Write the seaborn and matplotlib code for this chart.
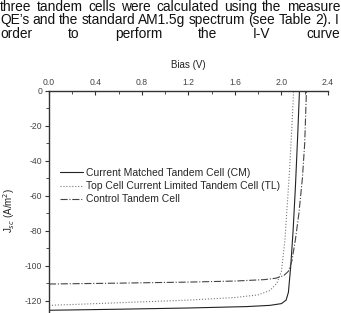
import matplotlib
matplotlib.use("Agg")
import matplotlib.pyplot as plt
import pandas as pd
import seaborn as sns
from matplotlib.ticker import MultipleLocator

# I-V curves
cm_bias = [0.0, 0.6, 1.2, 1.7, 1.9, 2.0, 2.04, 2.06, 2.08, 2.10, 2.12, 2.14, 2.155]
cm_jsc = [-125.3, -124.7, -124.0, -123.2, -122.5, -121.5, -119.5, -115.0, -100.0, -80.0, -55.0, -25.0, 0.0]

tl_bias = [0.0, 0.6, 1.2, 1.6, 1.8, 1.9, 1.96, 2.0, 2.03, 2.05, 2.07, 2.09, 2.105]
tl_jsc = [-122.5, -121.0, -119.5, -118.0, -116.5, -114.0, -110.0, -103.0, -85.0, -65.0, -45.0, -20.0, 0.0]

ct_bias = [0.0, 0.6, 1.2, 1.6, 1.85, 1.95, 2.02, 2.06, 2.09, 2.12, 2.15, 2.18, 2.20, 2.215]
ct_jsc = [-110.3, -109.8, -109.2, -108.6, -107.8, -107.0, -105.5, -103.0, -97.0, -85.0, -70.0, -50.0, -30.0, 0.0]

labels = ['Current Matched Tandem Cell (CM)',
          'Top Cell Current Limited Tandem Cell (TL)',
          'Control Tandem Cell']

x_ticks = [0.0, 0.4, 0.8, 1.2, 1.6, 2.0, 2.4]
y_ticks = [0, -20, -40, -60, -80, -100, -120]

# justified paragraph lines above the figure
para = ['three tandem cells were calculated using the measure',
        'QE\u2019s and the standard AM1.5g spectrum (see Table 2). I',
        'order to perform the I-V curve']

df = pd.concat([
    pd.DataFrame({'Bias': cm_bias, 'Jsc': cm_jsc, 'cell': labels[0]}),
    pd.DataFrame({'Bias': tl_bias, 'Jsc': tl_jsc, 'cell': labels[1]}),
    pd.DataFrame({'Bias': ct_bias, 'Jsc': ct_jsc, 'cell': labels[2]}),
])

sns.set_style('white')
plt.rcParams['font.family'] = ['Liberation Sans', 'DejaVu Sans']

fig = plt.figure(figsize=(3.41, 3.13), dpi=100)
renderer = fig.canvas.get_renderer()


def justify(line, ypos, x0, x1):
    # spread the words of one line between pixel columns x0 and x1
    texts = [fig.text(0, ypos, w, fontsize=9.9, va='center', ha='left', color='#111')
             for w in line.split()]
    widths = [t.get_window_extent(renderer).width for t in texts]
    gap = (x1 - x0 - sum(widths)) / (len(texts) - 1)
    x = x0
    for t, w in zip(texts, widths):
        t.set_x(x / 341)
        x += w + gap


justify(para[0], 0.977, 0, 340)
justify(para[1], 0.935, 0, 338)
justify(para[2], 0.892, 0, 340)

ax = fig.add_axes([0.1437, -0.0511, 0.818, 0.7604])

styles = {labels[0]: ('#222222', '-'),
          labels[1]: ('#777777', ':'),
          labels[2]: ('#444444', '-.')}
for name in labels:
    sub = df[df['cell'] == name]
    color, ls = styles[name]
    sns.lineplot(data=sub, x='Bias', y='Jsc', ax=ax, color=color, linestyle=ls,
                 linewidth=0.8, sort=False, estimator=None, label=name)

ax.set_xlim(0, 2.4)
ax.set_ylim(-136, 0)

ax.xaxis.tick_top()
ax.xaxis.set_label_position('top')
ax.set_xticks(x_ticks)
ax.set_xticklabels([f'{v:.1f}' for v in x_ticks])
ax.xaxis.set_minor_locator(MultipleLocator(0.2))
ax.set_yticks(y_ticks)
ax.set_yticklabels([str(v) for v in y_ticks])
ax.yaxis.set_minor_locator(MultipleLocator(10))
ax.tick_params(axis='x', which='major', direction='in', length=3, width=0.8,
               labelsize=6.2, labelcolor='#444', color='#333', pad=3, top=True, bottom=False)
ax.tick_params(axis='x', which='minor', direction='in', length=2, width=0.6,
               color='#333', top=True, bottom=False)
ax.tick_params(axis='y', which='major', direction='out', length=3, width=0.8,
               labelsize=6.2, labelcolor='#444', color='#333', pad=2, left=True)
ax.tick_params(axis='y', which='minor', direction='out', length=2, width=0.6,
               color='#333', left=True)

for side in ['right', 'bottom']:
    ax.spines[side].set_visible(False)
for side in ['left', 'top']:
    ax.spines[side].set_color('#333')
    ax.spines[side].set_linewidth(1.0)

ax.set_xlabel('Bias (V)', fontsize=7, color='#222')
ax.xaxis.set_label_coords(0.5, 1.097)
ax.set_ylabel('J$_{sc}$ (A/m$^2$)', fontsize=7, color='#222')
ax.yaxis.set_label_coords(-0.115, 0.5)

ax.legend(loc='upper left', bbox_to_anchor=(60 / 341, 0.463), bbox_transform=fig.transFigure,
          frameon=False, fontsize=7.5, handlelength=2.2, handletextpad=0.3,
          labelspacing=0.3, borderpad=0, borderaxespad=0)

fig.savefig('out.png', dpi=100)
